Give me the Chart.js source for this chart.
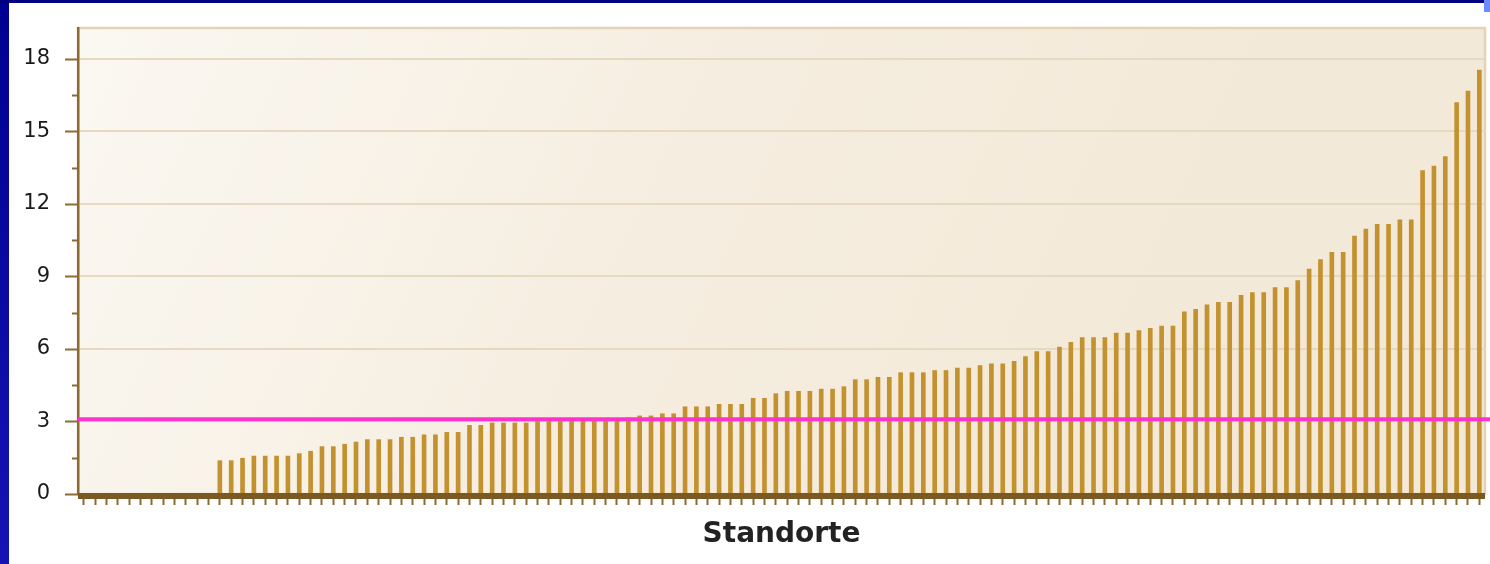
<!DOCTYPE html>
<html>
<head>
<meta charset="utf-8">
<title>Standorte</title>
<script src="https://cdn.jsdelivr.net/npm/chart.js@4.4.1/dist/chart.umd.min.js"></script>
<style>
body { margin: 0; background: #fff; }
canvas { display: block; }
</style>
</head>
<body>
<canvas id="myChart" width="1490" height="564"></canvas>
<script>
// Werte je Standort, aufsteigend sortiert
const werte = [
    0, 0, 0, 0, 0, 0, 0, 0, 0, 0, 0, 0,
    1.38, 1.38, 1.48, 1.57, 1.57, 1.57, 1.57, 1.67, 1.77, 1.96,
    1.96, 2.06, 2.15, 2.25, 2.25, 2.25, 2.35, 2.35, 2.45, 2.45,
    2.55, 2.55, 2.84, 2.84, 2.94, 2.94, 2.94, 2.94, 3.0, 3.0,
    3.0, 3.05, 3.05, 3.05, 3.1, 3.1, 3.15, 3.23, 3.23, 3.32,
    3.32, 3.61, 3.61, 3.61, 3.71, 3.71, 3.71, 3.96, 3.96, 4.15,
    4.25, 4.25, 4.25, 4.34, 4.34, 4.44, 4.73, 4.73, 4.83, 4.83,
    5.02, 5.02, 5.02, 5.11, 5.11, 5.21, 5.21, 5.31, 5.39, 5.39,
    5.49, 5.69, 5.89, 5.89, 6.08, 6.27, 6.47, 6.47, 6.47, 6.66,
    6.66, 6.76, 6.85, 6.95, 6.95, 7.54, 7.64, 7.83, 7.93, 7.93,
    8.22, 8.33, 8.33, 8.54, 8.54, 8.83, 9.31, 9.70, 10.0, 10.0,
    10.67, 10.96, 11.16, 11.16, 11.34, 11.34, 13.38, 13.57, 13.96, 16.19,
    16.67, 17.54
]
const standorte = werte.map((w, i) => 'Standort ' + (i + 1))
const schwelle = 3.09
const yMax = 19.28
const yStep = 1.5
const yLabelStep = 3
const yLabelMax = 18
const achsenTitel = 'Standorte'

const braun = '#8b6b32'

function istBeschriftet(v){
    const q = v / yLabelStep
    return Math.abs(q - Math.round(q)) < 1e-6 && v <= yLabelMax + 1e-6
}

const hintergrund = {
    id: 'hintergrund',
    beforeDraw(chart){
        const c = chart.ctx
        const a = chart.chartArea
        c.save()
        c.fillStyle = '#ffffff'
        c.fillRect(0, 0, chart.width, chart.height)
        let lg = c.createLinearGradient(0, 0, 0, chart.height)
        lg.addColorStop(0, '#000090')
        lg.addColorStop(1, '#1414b4')
        c.fillStyle = lg
        c.fillRect(0, 0, 9, chart.height)
        c.fillStyle = '#000080'
        c.fillRect(0, 0, chart.width, 3)
        c.fillStyle = '#6a8cff'
        c.fillRect(chart.width - 6, 0, 6, 12)
        let g = c.createLinearGradient(a.left, a.top, a.left + 1000, a.bottom)
        g.addColorStop(0, '#fbf8f2')
        g.addColorStop(0.5, '#f6eee1')
        g.addColorStop(1, '#f3e9d8')
        c.fillStyle = g
        c.fillRect(a.left, a.top, a.right - a.left, a.bottom - a.top)
        c.strokeStyle = '#e3d4b6'
        c.lineWidth = 2.5
        c.strokeRect(a.left, a.top, a.right - a.left, a.bottom - a.top)
        c.restore()
    },
    afterDatasetsDraw(chart){
        const c = chart.ctx
        const a = chart.chartArea
        const y = chart.scales.y
        c.save()
        // dicke Grundlinie
        c.fillStyle = '#7a5a22'
        c.fillRect(a.left, a.bottom - 1, a.right - a.left, 6)
        // Teilstriche links
        c.strokeStyle = braun
        c.lineWidth = 2
        y.ticks.forEach(t => {
            if(t.value > yLabelMax + 1e-6) return
            const py = Math.round(y.getPixelForValue(t.value)) + 0.5
            const len = istBeschriftet(t.value) ? 13 : 6
            c.beginPath()
            c.moveTo(a.left - len, py)
            c.lineTo(a.left, py)
            c.stroke()
        })
        // Schwellenlinie
        const sy = y.getPixelForValue(schwelle)
        c.strokeStyle = '#ff33cc'
        c.lineWidth = 4
        c.beginPath()
        c.moveTo(a.left, sy)
        c.lineTo(chart.width, sy)
        c.stroke()
        c.restore()
    }
}

const ctx = document.getElementById('myChart').getContext('2d')

const myChart = new Chart(ctx, {
    type: 'bar',
    data: {
        labels: standorte,
        datasets: [{
            label: 'Wert',
            data: werte,
            backgroundColor: '#c4912f',
            borderWidth: 0,
            barThickness: 4
        }]
    },
    options: {
        responsive: false,
        animation: false,
        devicePixelRatio: 1,
        layout: { padding: { top: 28, right: 5, left: 0, bottom: 0 } },
        plugins: {
            legend: { display: false },
            tooltip: { enabled: false }
        },
        scales: {
            x: {
                afterFit: s => { s.height = 70 },
                ticks: { display: false },
                border: { display: false },
                grid: {
                    offset: false,
                    drawOnChartArea: false,
                    drawTicks: true,
                    tickLength: 11,
                    tickColor: braun,
                    tickWidth: 2
                },
                title: {
                    display: true,
                    text: achsenTitel,
                    color: '#222',
                    font: { family: 'DejaVu Sans', size: 28, weight: 'bold' },
                    padding: { top: 0, bottom: 12 }
                }
            },
            y: {
                min: 0,
                max: yMax,
                afterFit: s => {
                    s.width = 78
                    s.paddingTop = 0
                    s.paddingBottom = 0
                },
                border: { color: braun, width: 2.5 },
                grid: {
                    drawTicks: false,
                    lineWidth: 2,
                    color: c => (c.tick && c.tick.value > 0 && istBeschriftet(c.tick.value)) ? '#e6d9bf' : 'transparent'
                },
                ticks: {
                    stepSize: yStep,
                    padding: 28,
                    color: '#1a1a1a',
                    font: { family: 'DejaVu Sans', size: 21 },
                    callback: v => istBeschriftet(v) ? v : ''
                }
            }
        }
    },
    plugins: [hintergrund]
})
</script>
</body>
</html>
